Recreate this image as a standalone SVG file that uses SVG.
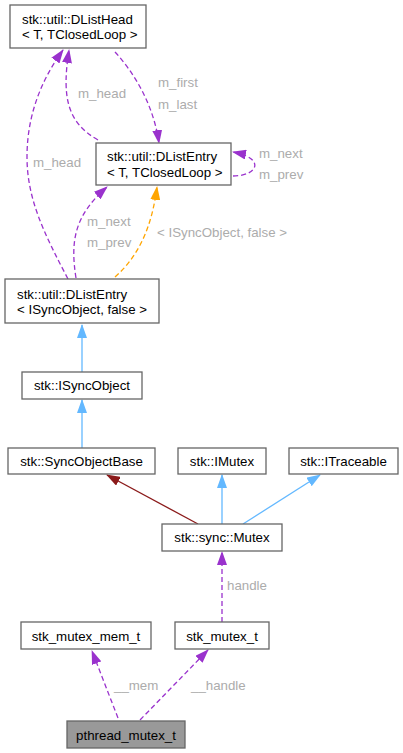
<svg xmlns="http://www.w3.org/2000/svg" width="403" height="753" viewBox="0 0 403 753">
<style>
  .node rect { fill: #ffffff; stroke: #666666; stroke-width: 1.3; }
  .node.hl rect { fill: #999999; }
  text { font-family: "Liberation Sans", Arial, sans-serif; font-size: 13.3px; fill: #000000; }
  .c { text-anchor: middle; }
  .lbl { fill: #acacac; }
  .edge { fill: none; stroke-width: 1.3; }
  .purple { stroke: #9a32cd; stroke-dasharray: 5,3; marker-end: url(#ap); }
  .orange { stroke: #ffa500; stroke-dasharray: 5,3; marker-end: url(#ao); }
  .blue { stroke: #63b8ff; marker-end: url(#ab); }
  .red { stroke: #8b1a1a; marker-end: url(#ar); }
</style>
<defs>
  <marker id="ap" markerUnits="userSpaceOnUse" viewBox="0 0 14 10" refX="13" refY="5" markerWidth="14" markerHeight="10" orient="auto"><path d="M0,0 L14,5 L0,10 z" fill="#9a32cd"/></marker>
  <marker id="ao" markerUnits="userSpaceOnUse" viewBox="0 0 14 10" refX="13" refY="5" markerWidth="14" markerHeight="10" orient="auto"><path d="M0,0 L14,5 L0,10 z" fill="#ffa500"/></marker>
  <marker id="ab" markerUnits="userSpaceOnUse" viewBox="0 0 14 10" refX="13" refY="5" markerWidth="14" markerHeight="10" orient="auto"><path d="M0,0 L14,5 L0,10 z" fill="#63b8ff"/></marker>
  <marker id="ar" markerUnits="userSpaceOnUse" viewBox="0 0 14 10" refX="13" refY="5" markerWidth="14" markerHeight="10" orient="auto"><path d="M0,0 L14,5 L0,10 z" fill="#8b1a1a"/></marker>
</defs>
<g id="edges">
  <path class="edge purple" d="M115,52 C137,76 154,108 159,143"/>
  <path class="edge purple" d="M98,140 C66,122 62,95 69,50"/>
  <path class="edge purple" d="M68,279 C45,235 27,200 27,157 C27,110 45,75 63,50"/>
  <path class="edge purple" d="M233,176 C247,176 258,170 254,162 C251,157 243,154 233,152"/>
  <path class="edge purple" d="M76,278 C70,240 75,215 107,187"/>
  <path class="edge orange" d="M115,277 C140,255 152,225 157,187"/>
  <path class="edge blue" d="M82,372 L82,325"/>
  <path class="edge blue" d="M82,448 L82,400"/>
  <path class="edge red" d="M198,524 L107,475"/>
  <path class="edge blue" d="M222,524 L222,475"/>
  <path class="edge blue" d="M243,524 L320,475"/>
  <path class="edge purple" d="M222,622 L222,552"/>
  <path class="edge purple" d="M118,718 L92,651"/>
  <path class="edge purple" d="M140,720 L208,650"/>
  <text class="lbl" x="158" y="87">m_first</text>
  <text class="lbl" x="158" y="109">m_last</text>
  <text class="lbl" x="78" y="98">m_head</text>
  <text class="lbl" x="33" y="167">m_head</text>
  <text class="lbl" x="259" y="158">m_next</text>
  <text class="lbl" x="259" y="179">m_prev</text>
  <text class="lbl" x="87" y="226">m_next</text>
  <text class="lbl" x="87" y="247">m_prev</text>
  <text class="lbl" x="157" y="237">&lt; ISyncObject, false &gt;</text>
  <text class="lbl" x="227" y="590">handle</text>
  <text class="lbl" x="114" y="690">__mem</text>
  <text class="lbl" x="191" y="690">__handle</text>
</g>
<g id="n_dlisthead" class="node">
  <rect x="10" y="5" width="136" height="43"/>
  <text x="22" y="23.5">stk::util::DListHead</text>
  <text x="22" y="39">&lt; T, TClosedLoop &gt;</text>
</g>
<g id="n_dlistentry_t" class="node">
  <rect x="96" y="143" width="135" height="42"/>
  <text x="107" y="161">stk::util::DListEntry</text>
  <text x="107" y="176.5">&lt; T, TClosedLoop &gt;</text>
</g>
<g id="n_dlistentry_isync" class="node">
  <rect x="5" y="279" width="154" height="44"/>
  <text x="17" y="298.5">stk::util::DListEntry</text>
  <text x="17" y="314">&lt; ISyncObject, false &gt;</text>
</g>
<g id="n_isyncobject" class="node">
  <rect x="22" y="372" width="120" height="27"/>
  <text class="c" x="82" y="390">stk::ISyncObject</text>
</g>
<g id="n_syncobjectbase" class="node">
  <rect x="8" y="448" width="147" height="26"/>
  <text class="c" x="81.5" y="465.7">stk::SyncObjectBase</text>
</g>
<g id="n_imutex" class="node">
  <rect x="178" y="448" width="88" height="26"/>
  <text class="c" x="222" y="465.7">stk::IMutex</text>
</g>
<g id="n_itraceable" class="node">
  <rect x="289" y="448" width="109" height="26"/>
  <text class="c" x="343.5" y="465.7">stk::ITraceable</text>
</g>
<g id="n_mutex" class="node">
  <rect x="162" y="524" width="120" height="27"/>
  <text class="c" x="222" y="542">stk::sync::Mutex</text>
</g>
<g id="n_stk_mutex_mem_t" class="node">
  <rect x="21" y="622" width="130" height="27"/>
  <text class="c" x="86" y="640.5">stk_mutex_mem_t</text>
</g>
<g id="n_stk_mutex_t" class="node">
  <rect x="175" y="622" width="94" height="27"/>
  <text class="c" x="222" y="640.5">stk_mutex_t</text>
</g>
<g id="n_pthread_mutex_t" class="node hl">
  <rect x="67" y="721" width="118" height="27"/>
  <text class="c" x="126" y="739.5">pthread_mutex_t</text>
</g>
</svg>
